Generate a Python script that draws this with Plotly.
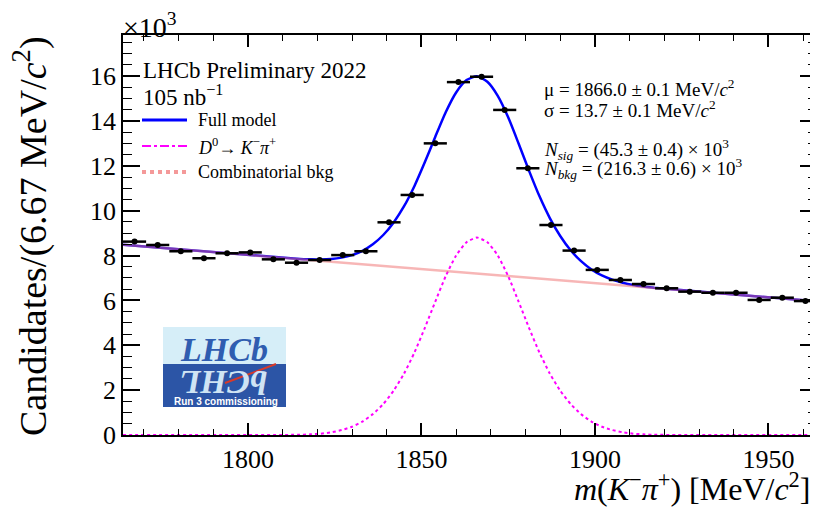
import plotly.graph_objects as go

# ---------------- data ----------------
bin_centers = [1767.33, 1774.00, 1780.67, 1787.33, 1794.00, 1800.67, 1807.33, 1814.00,
               1820.67, 1827.33, 1834.00, 1840.67, 1847.33, 1854.00, 1860.67, 1867.33,
               1874.00, 1880.67, 1887.33, 1894.00, 1900.67, 1907.33, 1914.00, 1920.67,
               1927.33, 1934.00, 1940.67, 1947.33, 1954.00, 1960.67]
# candidates per bin, in units of 10^3
candidates_k = [8.62, 8.47, 8.19, 7.88, 8.10, 8.14, 7.83, 7.68, 7.80, 8.02,
                8.19, 9.48, 10.70, 13.00, 15.73, 15.97, 14.49, 11.89, 9.36, 8.22,
                7.36, 6.91, 6.73, 6.54, 6.39, 6.34, 6.34, 6.02, 6.12, 5.97]
bin_half_width = 6.667 / 2

# model curves sampled at these masses (values in 10^3)
curve_mass = [1764, 1815, 1818, 1821, 1824, 1827, 1830, 1833, 1836, 1839, 1842, 1845,
              1848, 1851, 1854, 1857, 1860, 1863, 1866, 1869, 1872, 1875, 1878, 1881,
              1884, 1887, 1890, 1893, 1896, 1899, 1902, 1905, 1908, 1911, 1914, 1917, 1964]
signal_k = [0.00, 0.01, 0.03, 0.06, 0.12, 0.22, 0.37, 0.60, 0.93, 1.38, 1.98, 2.74,
            3.68, 4.78, 5.95, 7.08, 8.00, 8.59, 8.80, 8.59, 8.00, 7.08, 5.95, 4.78,
            3.68, 2.74, 1.98, 1.38, 0.93, 0.60, 0.37, 0.22, 0.12, 0.06, 0.03, 0.01, 0.00]
background_k = [8.480, 7.837, 7.800, 7.762, 7.724, 7.686, 7.648, 7.611, 7.573, 7.535,
                7.497, 7.459, 7.422, 7.384, 7.346, 7.308, 7.270, 7.233, 7.195, 7.157,
                7.119, 7.081, 7.044, 7.006, 6.968, 6.930, 6.892, 6.855, 6.817, 6.779,
                6.741, 6.703, 6.666, 6.628, 6.590, 6.552, 5.960]
full_model_k = [s + b for s, b in zip(signal_k, background_k)]

y_tick_vals = [0, 2, 4, 6, 8, 10, 12, 14, 16]
x_tick_vals = [1800, 1850, 1900, 1950]

legend_labels = ["Full model",
                 "<i>D</i><sup>0</sup>\u2192 <i>K</i><sup>\u2212</sup><i>\u03c0</i><sup>+</sup>",
                 "Combinatorial bkg"]

# ---------------- layout geometry (page pixels; the page has an 8px body margin) ----------------
OFF = 8
PAGE_W, PAGE_H = 818, 507
W, H = PAGE_W - OFF, PAGE_H - OFF
PLOT_L, PLOT_R, PLOT_T, PLOT_B = 123, 817, 35, 435
PW, PH = PLOT_R - PLOT_L, PLOT_B - PLOT_T
ML, MR, MT = PLOT_L - OFF, PAGE_W - PLOT_R, PLOT_T - OFF
MB = H - (PLOT_B - OFF)


def px(x):
    return (x - PLOT_L) / PW


def py(y):
    return (PLOT_B - y) / PH


SERIF = "Liberation Serif"
BLUE = "#0000ff"
MAGENTA = "#ff00ff"
SALMON = "rgba(240,110,110,0.5)"

fig = go.Figure()

fig.add_trace(go.Scatter(
    x=curve_mass, y=full_model_k, mode="lines", name="Full model", showlegend=False,
    line=dict(color=BLUE, width=2.5, shape="spline", smoothing=0.6)))
fig.add_trace(go.Scatter(
    x=curve_mass, y=signal_k, mode="lines", name="D0 signal", showlegend=False,
    line=dict(color=MAGENTA, width=2, dash="dot", shape="spline", smoothing=0.6)))
fig.add_trace(go.Scatter(
    x=curve_mass, y=background_k, mode="lines", name="Combinatorial bkg", showlegend=False,
    line=dict(color=SALMON, width=2.5)))
fig.add_trace(go.Scatter(
    x=bin_centers, y=candidates_k, mode="markers", showlegend=False, name="Data",
    marker=dict(color="black", size=6),
    error_x=dict(type="constant", value=bin_half_width, color="black", thickness=2.5, width=0)))

axis_common = dict(showline=True, linecolor="black", linewidth=1.5, mirror="allticks",
                   ticks="inside", tickcolor="black", showgrid=False, zeroline=False,
                   tickfont=dict(family=SERIF, size=26, color="black"))

fig.update_xaxes(range=[1764, 1964], tickmode="array", tickvals=x_tick_vals,
                 ticklen=12, tickwidth=1.5,
                 minor=dict(dtick=10, tick0=1800, ticks="inside", ticklen=6, tickcolor="black", tickwidth=1.2),
                 **axis_common)
fig.update_yaxes(range=[0, 17.83], tickmode="array", tickvals=y_tick_vals,
                 ticklen=17, tickwidth=1.5,
                 minor=dict(dtick=0.5, tick0=0, ticks="inside", ticklen=9, tickcolor="black", tickwidth=1.2),
                 **axis_common)

annotations = [
    dict(text="\u00d710<sup>3</sup>", x=px(121), y=py(25), xanchor="left", yanchor="middle",
         font=dict(family=SERIF, size=28)),
    dict(text="Candidates/(6.67 MeV/<i>c</i><sup>2</sup>)", textangle=-90,
         x=px(30), y=py(34), xanchor="center", yanchor="top", font=dict(family=SERIF, size=38)),
    dict(text="<i>m</i>(<i>K</i><sup>\u2212</sup><i>\u03c0</i><sup>+</sup>) [MeV/<i>c</i><sup>2</sup>]",
         x=px(812), y=py(487), xanchor="right", yanchor="middle", font=dict(family=SERIF, size=32)),
    dict(text="LHCb Preliminary 2022", x=px(141), y=py(70), xanchor="left", yanchor="middle",
         font=dict(family=SERIF, size=23)),
    dict(text="105 nb<sup>\u22121</sup>", x=px(141), y=py(96), xanchor="left", yanchor="middle",
         font=dict(family=SERIF, size=23)),
    dict(text="\u03bc = 1866.0 \u00b1 0.1 MeV/<i>c</i><sup>2</sup>", x=px(542), y=py(88),
         xanchor="left", yanchor="middle", font=dict(family=SERIF, size=19)),
    dict(text="\u03c3 = 13.7 \u00b1 0.1 MeV/<i>c</i><sup>2</sup>", x=px(542), y=py(109),
         xanchor="left", yanchor="middle", font=dict(family=SERIF, size=19)),
    dict(text="<i>N</i><sub><i>sig</i></sub> = (45.3 \u00b1 0.4) \u00d7 10<sup>3</sup>", x=px(542), y=py(149),
         xanchor="left", yanchor="middle", font=dict(family=SERIF, size=19)),
    dict(text="<i>N</i><sub><i>bkg</i></sub> = (216.3 \u00b1 0.6) \u00d7 10<sup>3</sup>", x=px(542), y=py(168),
         xanchor="left", yanchor="middle", font=dict(family=SERIF, size=19)),
    # legend texts
    dict(text=legend_labels[0], x=px(196), y=py(120), xanchor="left", yanchor="middle",
         font=dict(family=SERIF, size=18)),
    dict(text=legend_labels[1], x=px(196), y=py(146), xanchor="left", yanchor="middle",
         font=dict(family=SERIF, size=18)),
    dict(text=legend_labels[2], x=px(196), y=py(172), xanchor="left", yanchor="middle",
         font=dict(family=SERIF, size=18)),
    # logo texts
    dict(text="<b><i>LHCb</i></b>", x=px(224), y=py(349), xanchor="center", yanchor="middle",
         font=dict(family=SERIF, size=34, color="#2f5db0")),
    dict(text="<b><i>bCHL</i></b>", textangle=180, x=px(224), y=py(383), xanchor="center", yanchor="middle",
         font=dict(family=SERIF, size=34, color="#cfe4f4")),
    dict(text="<b>Run 3 commissioning</b>", x=px(226), y=py(401), xanchor="center", yanchor="middle",
         font=dict(family="Liberation Sans", size=10, color="white")),
]
for a in annotations:
    a.update(xref="paper", yref="paper", showarrow=False)

shapes = [
    # legend symbols
    dict(type="line", x0=px(142), x1=px(187), y0=py(120), y1=py(120), line=dict(color=BLUE, width=3)),
    dict(type="line", x0=px(142), x1=px(187), y0=py(146), y1=py(146),
         line=dict(color=MAGENTA, width=2, dash="dashdot")),
    dict(type="line", x0=px(142), x1=px(187), y0=py(172), y1=py(172),
         line=dict(color="rgba(240,110,110,0.7)", width=4, dash="dot")),
    # logo
    dict(type="rect", x0=px(163), x1=px(286), y0=py(364), y1=py(327),
         fillcolor="#d6eef8", line=dict(width=0), layer="above"),
    dict(type="rect", x0=px(163), x1=px(286), y0=py(407), y1=py(364),
         fillcolor="#2c55a6", line=dict(width=0), layer="above"),
    dict(type="line", x0=px(225), x1=px(276), y0=py(383), y1=py(364),
         line=dict(color="#d83a2a", width=2), layer="above"),
]
for s in shapes:
    s.update(xref="paper", yref="paper")

fig.update_layout(
    width=W, height=H, margin=dict(l=ML, r=MR, t=MT, b=MB, autoexpand=False),
    paper_bgcolor="white", plot_bgcolor="white",
    font=dict(family=SERIF, color="black"),
    showlegend=False,
    annotations=annotations, shapes=shapes,
)

fig.write_html("out.html")
